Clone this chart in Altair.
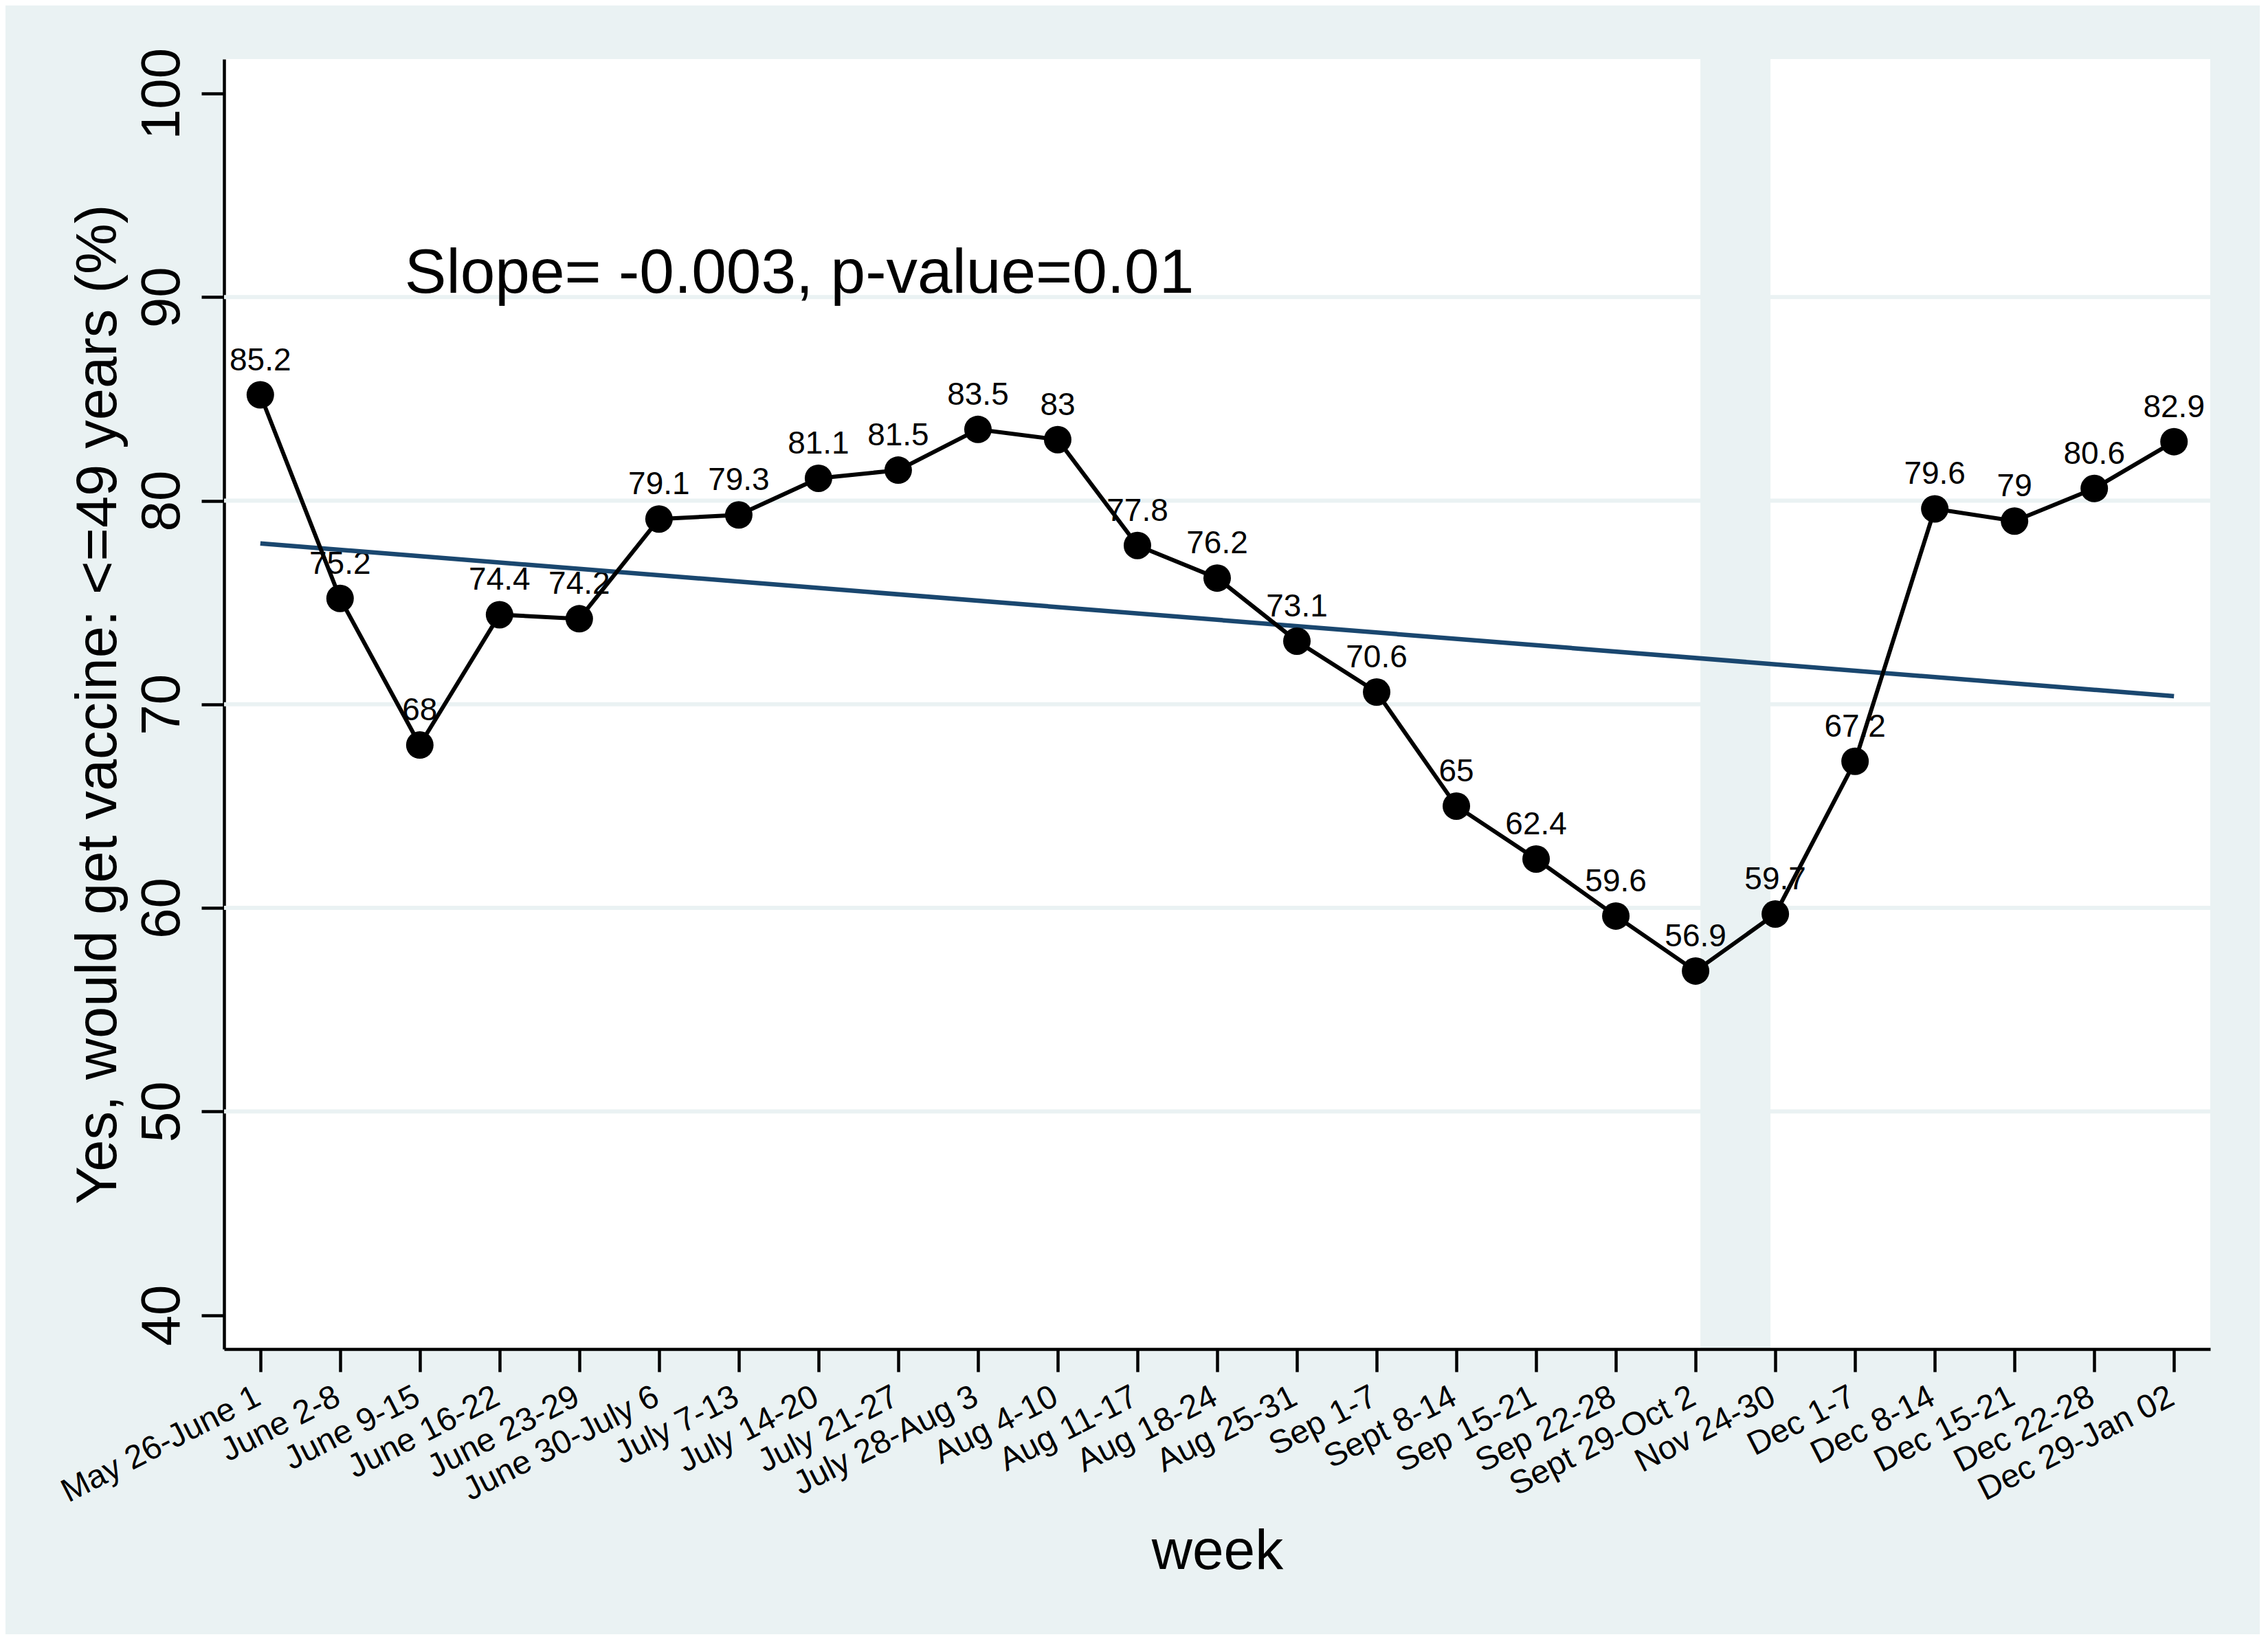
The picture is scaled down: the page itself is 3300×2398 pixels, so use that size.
import altair as alt
import pandas as pd

# ---- data ----
weeks = ["May 26-June 1", "June 2-8", "June 9-15", "June 16-22", "June 23-29",
         "June 30-July 6", "July 7-13", "July 14-20", "July 21-27", "July 28-Aug 3",
         "Aug 4-10", "Aug 11-17", "Aug 18-24", "Aug 25-31", "Sep 1-7",
         "Sept 8-14", "Sep 15-21", "Sep 22-28", "Sept 29-Oct 2", "Nov 24-30",
         "Dec 1-7", "Dec 8-14", "Dec 15-21", "Dec 22-28", "Dec 29-Jan 02"]
values = [85.2, 75.2, 68, 74.4, 74.2, 79.1, 79.3, 81.1, 81.5, 83.5,
          83, 77.8, 76.2, 73.1, 70.6, 65, 62.4, 59.6, 56.9, 59.7,
          67.2, 79.6, 79, 80.6, 82.9]
trend_weeks = [weeks[0], weeks[-1]]
trend_values = [77.9, 70.4]
y_ticks = [40, 50, 60, 70, 80, 90, 100]
grid_values = [50, 60, 70, 80, 90]
gap_start = ["Sept 29-Oct 2"]
gap_end = ["Nov 24-30"]
note_text = ["Slope= -0.003, p-value=0.01"]
note_week = ["June 9-15"]
note_value = [90.2]

BG = "#EAF2F3"
NAVY = "#1a476f"
FONT = "Liberation Sans"

df = pd.DataFrame({"week": weeks, "value": values,
                   "label": [f"{v:g}" for v in values]})
trend = pd.DataFrame({"week": trend_weeks, "value": trend_values})
grid = pd.DataFrame({"value": grid_values})
gap = pd.DataFrame({"week": gap_start, "week_end": gap_end})
note = pd.DataFrame({"week": note_week, "value": note_value, "text": note_text})

W, H = 2890, 1877

xscale = alt.Scale(type="point", domain=weeks, padding=0.455)
yscale = alt.Scale(domain=[38.33, 101.69], nice=False, zero=False)

xaxis = alt.Axis(title="week", titleFontSize=82, titleFont=FONT, titleFontWeight="normal",
                 titleColor="black", titleY=319, titleBaseline="alphabetic", titleLimit=3000,
                 labelAngle=333, labelAlign="right", labelBaseline="alphabetic",
                 labelPadding=46, labelOffset=3, labelFontSize=48, labelFont=FONT,
                 labelColor="black", labelLimit=1000, labelOverlap=False,
                 tickSize=33, tickWidth=4.5, tickColor="black",
                 domainColor="black", domainWidth=4.5, grid=False)
yaxis = alt.Axis(title="Yes, would get vaccine: <=49 years (%)", values=y_ticks,
                 titleFontSize=83, titleFont=FONT, titleFontWeight="normal", titleColor="black",
                 titleAngle=270, titleX=-158, titleY=H / 2, titleAlign="center",
                 titleBaseline="alphabetic", titleLimit=3000,
                 labelAngle=270, labelAlign="center", labelBaseline="alphabetic",
                 labelPadding=33, labelFontSize=80, labelFont=FONT, labelColor="black",
                 labelOverlap=False, tickSize=33, tickWidth=4.5, tickColor="black",
                 domainColor="black", domainWidth=4.5, grid=False)

x_enc = alt.X("week:N", scale=xscale, sort=weeks, axis=xaxis)
y_enc = alt.Y("value:Q", scale=yscale, axis=yaxis)

band = alt.Chart(gap).mark_rect(color=BG, xOffset=7, x2Offset=-7).encode(
    x=x_enc, x2="week_end:N", y=alt.value(0), y2=alt.value("height"))

grid_rules = alt.Chart(grid).mark_rule(color=BG, strokeWidth=6).encode(y=y_enc)

labels = alt.Chart(df).mark_text(font=FONT, fontSize=46, color="black",
                                 baseline="alphabetic", align="center", dy=-36).encode(
    x=x_enc, y=y_enc, text="label:N")

trend_line = alt.Chart(trend).mark_line(color=NAVY, strokeWidth=6.5).encode(x=x_enc, y=y_enc)

line = alt.Chart(df).mark_line(color="black", strokeWidth=6).encode(x=x_enc, y=y_enc)

points = alt.Chart(df).mark_point(filled=True, color="black", size=1600, opacity=1,
                                  shape="circle").encode(x=x_enc, y=y_enc)

note_mark = alt.Chart(note).mark_text(font=FONT, fontSize=91, color="black", align="left",
                                      baseline="alphabetic", dx=-22).encode(
    x=x_enc, y=y_enc, text="text:N")

chart = alt.layer(band, grid_rules, labels, trend_line, line, points, note_mark).properties(
    width=W, height=H,
    autosize=alt.AutoSizeParams(type="none"),
    padding={"left": 318, "top": 78, "right": 72, "bottom": 415},
    background=BG,
).configure_view(fill="white", strokeWidth=0)

chart.save("out.html", embed_options={"renderer": "svg", "actions": False})
